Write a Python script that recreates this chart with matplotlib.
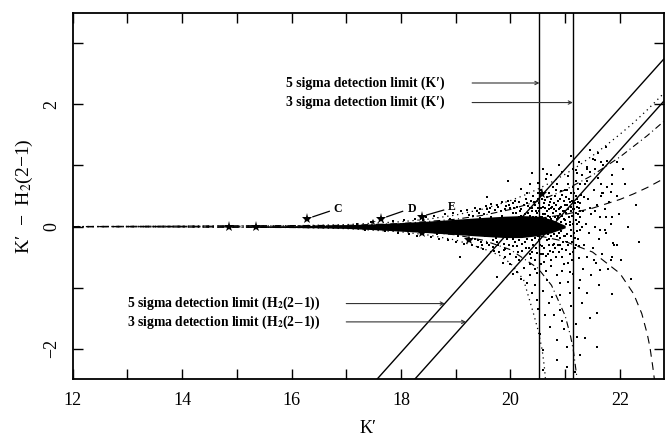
import matplotlib
matplotlib.use('Agg')
import matplotlib.pyplot as plt
from matplotlib.ticker import MultipleLocator, FuncFormatter

plt.rcParams['font.family'] = ['Liberation Serif', 'DejaVu Serif']
plt.rcParams['mathtext.fontset'] = 'stix'

# detection limits
k_lim5, k_lim3 = 20.53, 21.14
h2_lim5, h2_lim3 = 20.06, 20.75
diag_x = [12.0, 22.8]

# error envelopes
dot_up_x = [12, 16, 17, 18, 18.5, 19, 19.5, 20, 20.25, 20.5, 20.75, 21, 21.25, 21.5, 21.75, 22, 22.25, 22.5, 22.8]
dot_up_y = [0, 0.013, 0.032, 0.079, 0.123, 0.189, 0.287, 0.425, 0.512, 0.613, 0.728, 0.857, 1.0, 1.16, 1.33, 1.51, 1.70, 1.91, 2.18]
dot_lo_x = [12, 16, 17, 18, 18.5, 19, 19.5, 19.8, 20.0, 20.24, 20.42, 20.5, 20.58, 20.62, 20.64]
dot_lo_y = [0, -0.013, -0.033, -0.086, -0.139, -0.22, -0.36, -0.47, -0.6, -0.87, -1.42, -1.68, -2.02, -2.3, -2.5]
dd_up_x = [12, 17, 18, 19, 19.5, 20, 20.5, 21, 21.5, 22, 22.5, 22.8]
dd_up_y = [0, 0.02, 0.049, 0.12, 0.185, 0.28, 0.415, 0.6, 0.841, 1.139, 1.488, 1.72]
dd_lo_x = [12, 17, 18, 19, 19.5, 20, 20.5, 20.75, 21, 21.1, 21.15, 21.2, 21.22]
dd_lo_y = [0, -0.02, -0.052, -0.135, -0.223, -0.378, -0.68, -0.96, -1.46, -1.8, -2.03, -2.37, -2.5]
da_up_x = [12, 18, 19, 20, 20.5, 21, 21.5, 22, 22.25, 22.5, 22.8]
da_up_y = [0, 0.014, 0.034, 0.084, 0.13, 0.199, 0.301, 0.444, 0.535, 0.639, 0.783]
da_lo_x = [12, 18, 19, 20, 20.5, 21, 21.5, 22, 22.25, 22.4, 22.5, 22.55, 22.6, 22.63]
da_lo_y = [0, -0.014, -0.035, -0.091, -0.147, -0.244, -0.417, -0.766, -1.10, -1.425, -1.76, -1.98, -2.29, -2.5]

# densest part of the source cloud
core_x = [15.3, 16.0, 16.5, 17.0, 17.5, 18.0, 18.5, 19.0, 19.5, 19.9, 20.2, 20.5, 20.75, 21.0]
core_hi = [0.012, 0.015, 0.02, 0.03, 0.045, 0.065, 0.09, 0.12, 0.15, 0.17, 0.18, 0.17, 0.12, 0.02]
core_lo = [-0.012, -0.015, -0.02, -0.03, -0.05, -0.075, -0.1, -0.13, -0.16, -0.18, -0.18, -0.15, -0.1, -0.02]

# individual sources
edge_pts = [(17.45,0.07),(17.7,-0.07),(17.85,0.09),(17.95,-0.1),(18.05,0.11),(18.15,-0.12),(18.25,0.13),
            (18.3,-0.15),(18.45,0.15),(18.55,-0.17),(18.6,0.18),(18.7,-0.2),(18.8,0.2),(18.85,-0.22),
            (18.95,0.22),(19.0,-0.25),(19.1,0.25),(19.15,-0.28),(19.2,0.27),(19.3,-0.3),(19.35,0.3),
            (19.4,-0.33),(19.45,0.28),(19.5,-0.36),(19.55,0.33),(19.6,-0.3),(19.65,0.37),(19.7,-0.4),
            (19.75,0.35),(19.8,-0.42),(19.85,0.4),(19.9,-0.36),(19.95,0.42),(20.0,-0.45),(20.05,0.38),
            (20.1,-0.5),(18.9,0.12),(19.05,-0.16),(19.25,0.19),(19.4,-0.22),(19.6,0.24),(19.75,-0.26),
            (19.9,0.28),(18.4,0.1),(18.65,-0.12),(17.2,0.04),(17.35,-0.05),(19.08,-0.49),(19.57,0.49)]
dense_pts = [(20.02,0.12),(20.04,-0.2),(20.06,0.3),(20.08,-0.05),(20.1,0.22),(20.12,-0.32),(20.14,0.05),
             (20.16,0.4),(20.18,-0.15),(20.2,0.28),(20.22,-0.4),(20.24,0.1),(20.26,-0.25),(20.28,0.45),
             (20.3,-0.08),(20.32,0.33),(20.34,-0.35),(20.36,0.18),(20.38,-0.52),(20.4,0.02),(20.42,0.5),
             (20.44,-0.18),(20.46,0.26),(20.48,-0.44),(20.5,0.12),(20.52,0.38),(20.54,-0.3),(20.56,0.6),
             (20.58,-0.1),(20.6,0.2),(20.62,-0.58),(20.64,0.44),(20.66,-0.22),(20.68,0.08),(20.7,0.55),
             (20.72,-0.4),(20.74,0.3),(20.76,-0.05),(20.78,0.65),(20.8,-0.28),(20.82,0.15),(20.84,-0.5),
             (20.86,0.42),(20.88,0.02),(20.9,-0.18),(20.92,0.58),(20.94,-0.36),(20.96,0.25),(20.98,-0.62),
             (21.0,0.1),(21.02,0.48),(21.04,-0.12),(21.06,0.7),(21.08,-0.45),(21.1,0.32),(21.12,-0.25),
             (21.14,0.05),(21.16,0.55),(21.18,-0.35),(21.2,0.22),(21.22,-0.08),(21.24,0.62),(21.26,-0.52),
             (21.28,0.38),(21.3,0.0),
             (20.03,-0.1),(20.07,0.05),(20.11,-0.12),(20.15,0.15),(20.19,0.02),(20.23,-0.08),(20.27,0.2),
             (20.31,-0.2),(20.35,0.08),(20.39,0.25),(20.43,-0.05),(20.47,0.15),(20.51,-0.15),(20.55,0.05),
             (20.59,0.32),(20.63,-0.02),(20.67,0.25),(20.71,-0.2),(20.75,0.12),(20.79,-0.12),(20.83,0.35),
             (20.87,-0.3),(20.91,0.2),(20.95,0.0),(20.99,0.35),(21.03,-0.25),(21.07,0.15),(21.11,-0.05),
             (21.15,0.4),(21.19,0.1),(21.23,-0.2),(21.27,0.15),(20.45,0.35),(20.53,-0.22),(20.57,0.45),
             (20.61,-0.35),(20.65,0.12),(20.69,-0.45),(20.73,0.4),(20.77,-0.3),(20.81,0.5),(20.85,0.12),
             (20.89,-0.42),(20.93,0.08),(20.97,-0.15),(21.01,-0.38),(21.05,0.28),(21.09,0.02),(21.13,-0.55),
             (21.17,0.28),(21.21,0.45),(21.25,-0.32),(21.29,0.52),(20.41,-0.3),(20.37,0.42),(20.33,-0.15),
             (20.29,0.1),(20.25,0.35),(20.21,-0.28),(20.17,0.25),(20.13,-0.42),(20.09,0.42),(20.05,-0.32),
             (20.3,0.55),(20.35,-0.45),(20.4,0.3),(20.45,-0.55),(20.5,0.45),(20.55,-0.45),(20.6,0.52),
             (20.65,-0.48),(20.7,0.35),(20.75,-0.55),(20.8,0.28),(20.85,-0.15),(20.9,0.45),(20.95,-0.5),
             (21.0,0.6),(21.05,-0.6),(21.1,0.55),(21.15,-0.42),(21.2,0.75),(21.25,0.3),(20.52,0.0),
             (20.62,0.1),(20.72,0.0),(20.82,-0.02),(20.92,-0.08),(21.02,0.22),(21.12,0.18),(21.22,0.05),
             (20.48,0.22),(20.58,0.16),(20.68,-0.12),(20.78,0.22),(20.88,0.28),(20.98,0.12),(21.08,0.4),
             (21.18,-0.18),(21.28,-0.05)]
mid_pts = [(19.32,0.18),(19.36,-0.2),(19.42,0.22),(19.47,-0.25),(19.52,0.2),(19.58,-0.27),(19.62,0.3),
           (19.68,-0.22),(19.72,0.27),(19.78,-0.3),(19.82,0.25),(19.88,-0.28),(19.92,0.33),(19.97,-0.3),
           (20.0,0.3),(19.34,-0.12),(19.44,0.14),(19.54,-0.15),(19.64,0.16),(19.74,-0.18),(19.84,0.18),
           (19.94,-0.2),(20.04,0.22),(19.38,0.25),(19.48,-0.3),(19.58,0.28),(19.68,-0.34),(19.78,0.32),
           (19.88,-0.38),(19.98,0.36),(20.08,-0.25),(20.12,0.32),(20.16,-0.22),(20.2,0.18),(20.24,-0.15),
           (20.28,-0.35),(20.32,0.22),(20.36,-0.05),(20.4,-0.22),(20.44,0.1),(20.48,-0.1),(20.52,0.25),
           (20.56,-0.12),(20.6,0.0),(20.64,0.3),(20.68,0.18),(20.72,0.15),(20.76,0.32),(20.8,0.05),
           (20.84,0.25),(20.88,-0.1),(20.92,0.32),(20.96,-0.25),(21.0,-0.15),(21.04,0.35),(21.08,0.08),
           (21.12,0.42),(21.16,-0.1),(21.2,-0.3),(21.24,0.2),(21.28,0.25),(20.42,0.15),(20.46,-0.35),
           (20.5,0.3),(20.54,0.15),(20.58,-0.32),(20.62,0.38),(20.66,-0.05),(20.7,-0.3),(20.74,-0.15),
           (20.78,-0.42),(20.82,-0.35),(20.86,0.05),(20.9,0.3),(20.94,0.18),(20.98,0.42),(21.02,0.05),
           (21.06,-0.3),(21.1,-0.15),(21.14,0.28),(21.18,0.38),(21.22,0.32),(21.26,0.08),(20.27,0.0),
           (20.31,0.38),(20.35,0.3),(20.39,-0.42),(20.43,0.4),(20.47,0.05),(20.51,0.55),(20.55,0.3),
           (20.59,-0.45),(20.63,0.2),(20.67,0.48),(20.71,0.28),(20.75,0.45),(20.79,0.38),(20.83,0.6),
           (20.87,0.15),(20.91,-0.3),(20.95,0.52),(20.99,0.25),(21.03,0.6),(21.07,0.45),(21.11,0.25),
           (21.15,0.65),(21.19,0.5),(21.23,0.4),(21.27,0.7)]
faint_pts = [(21.32,0.25),(21.34,-0.3),(21.36,0.7),(21.38,0.05),(21.4,-0.5),(21.42,0.45),(21.44,-0.1),
             (21.46,0.9),(21.48,0.2),(21.5,-0.35),(21.52,0.6),(21.54,0.0),(21.56,-0.6),(21.58,0.35),
             (21.6,0.8),(21.62,-0.2),(21.64,0.15),(21.66,0.5),(21.68,-0.45),(21.7,1.0),(21.72,0.28),
             (21.74,-0.1),(21.76,0.65),(21.78,-0.7),(21.8,0.4),(21.83,0.05),(21.86,0.85),(21.9,-0.3),
             (21.94,0.5),(21.98,0.2),(22.02,-0.55),(22.1,0.7),(22.15,0.0),(22.2,-0.85),(22.3,0.35),
             (21.35,0.48),(21.45,0.3),(21.55,0.25),(21.65,0.7),(21.75,0.15),(21.85,-0.5),(21.95,1.05),
             (21.4,0.95),(21.5,1.1),(21.6,1.2),(21.7,0.55),(21.33,-0.7),(21.47,-0.8),(21.62,-0.95),
             (21.85,-1.1),(22.35,-0.25),(22.05,0.95),(21.67,0.55),(21.83,0.57),(21.86,0.16),(21.64,-0.05),
             (21.73,-0.05),(21.95,-0.3)]
low_pts = [(19.87,-0.6),(20.3,-0.93),(20.67,-0.87),(20.76,-1.15),(20.91,-1.37),(20.64,-1.45),(20.73,-1.64),
           (21.09,-1.09),(21.28,-0.87),(21.4,-1.09),(21.58,-1.42),(21.58,-1.97),(21.37,-1.83),(21.28,-2.1),
           (20.85,-2.19),(20.6,-2.35),(21.03,-2.3),(21.18,-2.38),(20.6,-2.02),(20.54,-1.75),(20.97,-1.67),
           (21.22,-1.8),(21.88,-0.27),(21.83,-0.55),(21.64,-0.71),(21.52,-0.55),(21.09,-0.74),(20.91,-0.93),
           (20.49,-0.76),(20.12,-0.74),(19.75,-0.82),(20.49,-1.2),(20.39,-1.09),(20.79,-1.45),(20.85,-1.86),
           (21.03,-1.97),(19.9,-0.5),(20.0,-0.62),(20.15,-0.55),(20.25,-0.68),(20.35,-0.8),(20.2,-0.85),
           (20.45,-0.95),(20.55,-0.62),(20.65,-0.72),(20.75,-0.65),(20.85,-0.8),(20.95,-0.72),(21.05,-0.9),
           (21.15,-0.78),(21.25,-1.0),(20.6,-1.05),(20.7,-1.25),(20.9,-1.12),(21.1,-1.3),(21.3,-1.25),
           (20.5,-1.35),(21.45,-1.5),(20.95,-1.55),(21.2,-1.6),(20.45,-0.7),(20.35,-0.62),(20.05,-0.78)]
high_pts = [(20.2,0.62),(20.35,0.7),(20.5,0.72),(20.65,0.78),(20.75,0.85),(20.85,0.7),(20.95,0.9),
            (21.05,0.82),(21.15,0.95),(21.25,1.05),(21.3,0.85),(21.45,1.25),(21.55,0.95),(21.65,1.05),
            (21.75,1.3),(21.85,0.7),(20.6,0.95),(20.88,1.0),(21.1,1.15),(19.95,0.75),(20.4,0.88),
            (21.2,0.92),(21.4,0.75),(20.67,0.86),(21.22,0.87),(21.4,0.98),(21.55,1.09),(21.76,1.07)]

# marked stars
star_x = [14.86, 15.35, 16.28, 17.48, 17.63, 18.38, 18.39, 19.25, 20.58]
star_y = [0.0, 0.0, 0.126, 0.077, 0.13, 0.16, -0.11, -0.22, 0.54]
star_ms = [8, 8, 8, 5, 8, 8, 7, 7, 8]
names = ['C', 'D', 'E']
name_line = [((16.39, 0.16), (16.69, 0.25)), ((17.74, 0.16), (18.03, 0.25)), ((18.47, 0.19), (18.78, 0.27))]
name_pos = [(16.85, 0.29), (18.2, 0.29), (18.93, 0.32)]


def main():
    fig = plt.figure(figsize=(6.71, 4.42), dpi=100)
    ax = fig.add_axes([0.1082, 0.1418, 0.8809, 0.8294])

    # sources
    ax.fill_between(core_x, core_lo, core_hi, color='k', lw=0)
    for pts in (edge_pts, dense_pts, mid_pts, faint_pts, low_pts, high_pts):
        xs, ys = zip(*pts)
        ax.plot(xs, ys, 's', color='k', ms=1.9, mew=0)

    # error curves
    ax.plot(dot_up_x, dot_up_y, color='k', lw=0.9, ls=(0, (1, 3)))
    ax.plot(dot_lo_x, dot_lo_y, color='k', lw=0.9, ls=(0, (1, 3)))
    ax.plot(dd_up_x, dd_up_y, color='k', lw=0.8, ls=(0, (6, 3, 1, 3)))
    ax.plot(dd_lo_x, dd_lo_y, color='k', lw=0.8, ls=(0, (6, 3, 1, 3)))
    ax.plot(da_up_x, da_up_y, color='k', lw=0.8, ls=(0, (7, 5)))
    ax.plot(da_lo_x, da_lo_y, color='k', lw=0.8, ls=(0, (7, 5)))

    # limits
    ax.axvline(k_lim5, color='k', lw=1.0)
    ax.axvline(k_lim3, color='k', lw=1.0)
    for lim in (h2_lim5, h2_lim3):
        ax.plot(diag_x, [x - lim for x in diag_x], color='k', lw=1.0)

    for sx, sy, ms in zip(star_x, star_y, star_ms):
        ax.plot(sx, sy, '*', color='k', ms=ms, mew=0)
    for nm, (p0, p1), (tx, ty) in zip(names, name_line, name_pos):
        ax.plot([p0[0], p1[0]], [p0[1], p1[1]], color='k', lw=0.9)
        ax.text(tx, ty, nm, fontsize=8.5, fontweight='bold', ha='center', va='center')

    tkw = dict(fontsize=9.8, fontweight='bold', va='center', ha='left')
    arw = dict(arrowstyle='->', lw=0.8, color='#333333', shrinkA=0, shrinkB=0, mutation_scale=6)
    ax.text(15.9, 2.35, "5 sigma detection limit (K\u2032)", **tkw)
    ax.text(15.9, 2.03, "3 sigma detection limit (K\u2032)", **tkw)
    ax.annotate('', xy=(k_lim5, 2.35), xytext=(19.3, 2.35), arrowprops=arw)
    ax.annotate('', xy=(k_lim3, 2.03), xytext=(19.3, 2.03), arrowprops=arw)
    ax.text(13.0, -1.26, r"5 sigma detection limit (H$_\mathbf{2}$(2$-$1))", **tkw)
    ax.text(13.0, -1.56, r"3 sigma detection limit (H$_\mathbf{2}$(2$-$1))", **tkw)
    ax.annotate('', xy=(-1.26 + h2_lim5, -1.26), xytext=(17.0, -1.26), arrowprops=arw)
    ax.annotate('', xy=(-1.56 + h2_lim3, -1.56), xytext=(17.0, -1.56), arrowprops=arw)

    ax.set_xlim(12, 22.8)
    ax.set_ylim(-2.5, 3.5)
    ax.xaxis.set_major_locator(MultipleLocator(1))
    ax.yaxis.set_major_locator(MultipleLocator(1))
    even = FuncFormatter(lambda v, p: '%d' % v if round(v) % 2 == 0 else '')
    even_y = FuncFormatter(lambda v, p: ('%d' % v).replace('-', '\u2212') if round(v) % 2 == 0 else '')
    ax.xaxis.set_major_formatter(even)
    ax.yaxis.set_major_formatter(even_y)
    ax.tick_params(direction='in', top=True, right=True, length=7, width=1.0, labelsize=13, pad=9)
    for lab in ax.get_yticklabels():
        lab.set_rotation(90)
        lab.set_va('center')
    for sp in ax.spines.values():
        sp.set_linewidth(1.3)

    ax.set_xlabel("K\u2032", fontsize=13, labelpad=8)
    ax.set_ylabel("K\u2032  \u2212  H$_2$(2\u22121)", fontsize=14, labelpad=6)

    fig.savefig('out.png', dpi=100)
    plt.close(fig)


if __name__ == '__main__':
    main()
